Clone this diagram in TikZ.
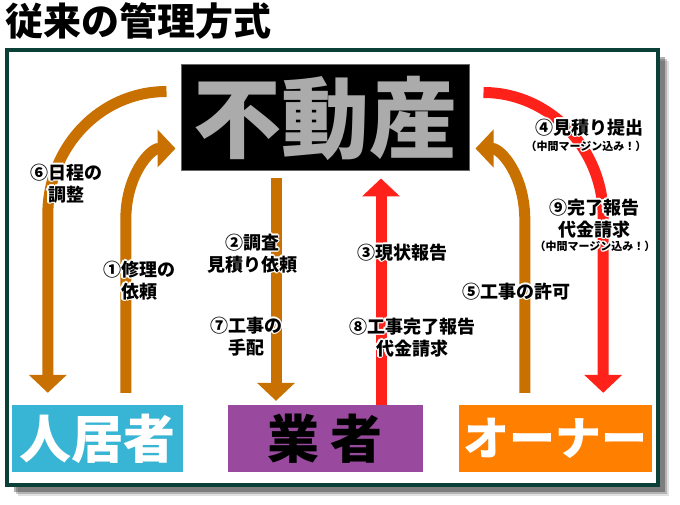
\documentclass[tikz,border=0pt]{standalone}
\usepackage{fontspec}
\newfontfamily\cjk{Noto Sans CJK JP}
\usepackage[copies]{contour}
\contourlength{1.3pt}
\contournumber{12}
\usetikzlibrary{arrows.meta, calc}
\definecolor{framegreen}{RGB}{10,64,56}
\definecolor{arrorange}{RGB}{200,112,0}
\definecolor{arrred}{RGB}{255,34,26}
\definecolor{resblue}{RGB}{56,180,212}
\definecolor{venpurple}{RGB}{154,74,158}
\definecolor{ownorange}{RGB}{255,128,0}
\newcommand{\wout}[1]{\contour{white}{#1}}

\begin{document}
\begin{tikzpicture}[x=1pt, y=-1pt,
  party/.style={rectangle, inner sep=0pt, minimum height=67pt,
                font=\cjk\bfseries\fontsize{52}{52}\selectfont},
  oarr/.style={line width=11pt, arrorange, -{Triangle[width=37pt,length=18pt]}},
  rarr/.style={line width=11pt, arrred, -{Triangle[width=37pt,length=18pt]}},
  lbl/.style={align=center, inner sep=0pt, font=\cjk\bfseries\fontsize{18}{22}\selectfont},
  note/.style={inner sep=0pt, font=\cjk\bfseries\fontsize{11}{13}\selectfont},
]
\useasboundingbox (0,0) rectangle (680,505);

% Titel
\node[anchor=west, inner sep=0pt, font=\cjk\bfseries\fontsize{38}{38}\selectfont]
  (title) at (5,21) {従来の管理方式};

% Rahmen mit Schatten
\foreach \s/\o in {11/0.12, 9/0.2, 7/0.3} {
  \fill[black, opacity=\o] (7+\s,50+\s) rectangle (658+\s,485+\s);
}
\draw[framegreen, line width=4pt, fill=white] (7,50) rectangle (658,485);

% Knoten
\node[rectangle, fill=black, draw=black!60, line width=1pt, minimum width=288pt,
      minimum height=106pt, inner sep=0pt, text=black!33,
      font=\cjk\bfseries\fontsize{88}{88}\selectfont]
  (fudosan) at (325,118) {不動産};
\node[party, fill=resblue, text=white, minimum width=171pt] (kyoju) at (97.5,438.5) {人居者};
\node[party, fill=venpurple, text=black, minimum width=195pt] (gyosha) at (325,438.5) {業\hspace{12pt}者};
\node[party, fill=ownorange, text=white, minimum width=193pt,
      font=\cjk\bfseries\fontsize{46}{46}\selectfont] (owner) at (555.5,438.5) {オーナー};

% Pfeile links
\draw[oarr] ($(fudosan.north west)+(-14,27)$) .. controls +(-66,0) and +(0,-68) ..
  ($(kyoju.north west)+(36,-190)$) -- ($(kyoju.north west)+(36,-12)$);
\draw[oarr] ($(kyoju.north west)+(114,-12)$) -- ($(kyoju.north west)+(114,-185)$)
  .. controls +(0,-45) and +(-25,0) .. ($(fudosan.south west)+(-5,-23)$);

% Pfeile Mitte
\draw[oarr] ($(fudosan.south)+(-49,7)$) -- ($(gyosha.north)+(-49,-4)$);
\draw[rarr] ($(gyosha.north)+(56,0)$) -- ($(fudosan.south)+(56,7)$);

% Pfeile rechts
\draw[rarr] ($(fudosan.north east)+(14,28)$) .. controls +(66,0) and +(0,-68) ..
  ($(owner.north east)+(-49,-188)$) -- ($(owner.north east)+(-49,-12)$);
\draw[oarr] ($(owner.north west)+(66,-12)$) -- ($(owner.north west)+(66,-185)$)
  .. controls +(0,-45) and +(25,0) .. ($(fudosan.south east)+(6,-23)$);

% Beschriftungen
\node[lbl] (l6) at (66,184)  {\wout{⑥日程の}\\\wout{調整}};
\node[lbl] (l1) at (139,281) {\wout{①修理の}\\\wout{依頼}};
\node[lbl] (l2) at (252,254) {\wout{②調査}\\\wout{見積り依頼}};
\node[lbl] (l7) at (246,337) {\wout{⑦工事の}\\\wout{手配}};
\node[lbl] (l3) at (402,253) {\wout{③現状報告}};
\node[lbl] (l8) at (412,338) {\wout{⑧工事完了報告}\\\wout{代金請求}};
\node[lbl] (l5) at (516,292) {\wout{⑤工事の許可}};
\node[lbl] (l4) at (589,128) {\wout{④見積り提出}};
\node[note] (n4) at (586,147) {\wout{（中間マージン込み！）}};
\node[lbl] (l9) at (594,219) {\wout{⑨完了報告}\\\wout{代金請求}};
\node[note] (n9) at (595,247) {\wout{（中間マージン込み！）}};

\end{tikzpicture}
\end{document}
